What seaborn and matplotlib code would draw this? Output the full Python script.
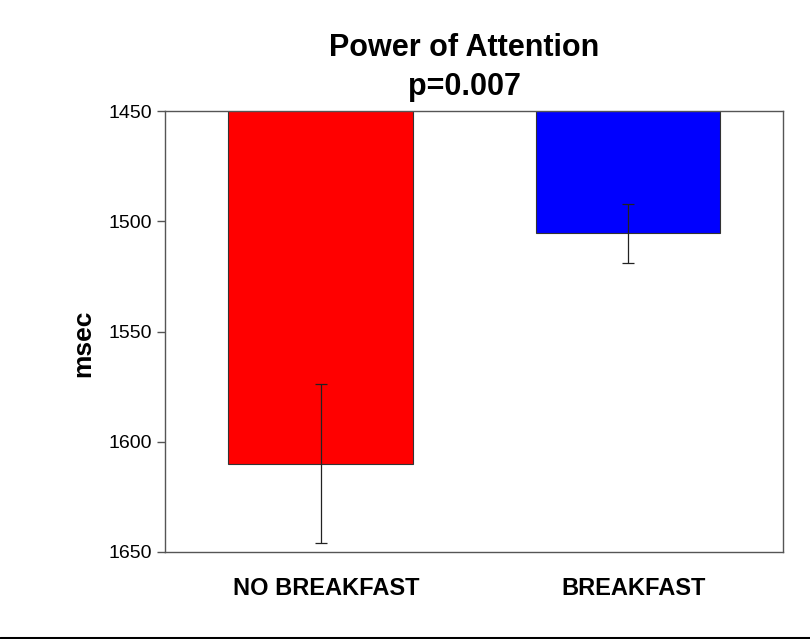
import matplotlib
matplotlib.use("Agg")
import matplotlib.pyplot as plt
from matplotlib.lines import Line2D
from matplotlib.transforms import ScaledTranslation
import seaborn as sns
import pandas as pd

categories = ["NO BREAKFAST", "BREAKFAST"]
means = [1610, 1505.5]
errors = [36, 13.5]
colors = ["#ff0000", "#0000ff"]
title = "Power of Attention\np=0.007"
ylabel = "msec"
yticks = [1450, 1500, 1550, 1600, 1650]

sns.set_style("white")
plt.rcParams["font.family"] = ["Liberation Sans", "DejaVu Sans"]
plt.rcParams["text.color"] = "black"
plt.rcParams["axes.labelcolor"] = "black"
plt.rcParams["xtick.color"] = "black"
plt.rcParams["ytick.color"] = "black"

df = pd.DataFrame({"cond": categories, "msec": means})

fig = plt.figure(figsize=(8.1, 6.39), dpi=100)
ax = fig.add_axes([165 / 810, 1 - 552 / 639, (783 - 165) / 810, (552 - 111) / 639])

sns.barplot(data=df, x="cond", y="msec", hue="cond", palette=colors,
            order=categories, hue_order=categories, legend=False,
            errorbar=None, width=0.6, edgecolor="#333333", linewidth=0.8,
            saturation=1, ax=ax, zorder=2)
ax.errorbar(range(len(categories)), means, yerr=errors, fmt="none",
            ecolor="#222222", elinewidth=0.9, capsize=4.5, capthick=0.9, zorder=3)

ax.set_ylim(1650, 1450)
ax.set_xlim(-0.506, 1.504)
ax.set_yticks(yticks)
ax.set_yticklabels([str(t) for t in yticks], fontsize=14)
ax.set_xticks(range(len(categories)))
ax.set_xticklabels(categories, fontsize=17, fontweight="bold")
ax.tick_params(axis="x", length=0, pad=18, labelcolor="black")
ax.tick_params(axis="y", length=6, width=1, color="#555555", direction="out",
               pad=3, left=True, labelcolor="black")
shift = ScaledTranslation(6 / 100, 0, fig.dpi_scale_trans)
for lab in ax.get_xticklabels():
    lab.set_transform(lab.get_transform() + shift)
ax.set_xlabel("")
ax.set_ylabel(ylabel, fontsize=19, fontweight="bold", color="black")
ax.yaxis.set_label_coords(-(165 - 95) / 618, (552 - 343.5) / 441)
for s in ax.spines.values():
    s.set_visible(True)
    s.set_color("#555555")
    s.set_linewidth(1.0)

fig.text(464 / 810, 1 - 33 / 639, title, ha="center", va="top",
         fontsize=22, fontweight="bold", linespacing=1.37, color="black")

fig.add_artist(Line2D([0, 1], [0.002, 0.002], color="black", lw=2.2,
                      transform=fig.transFigure))

fig.savefig("out.png", dpi=100, facecolor="white")
